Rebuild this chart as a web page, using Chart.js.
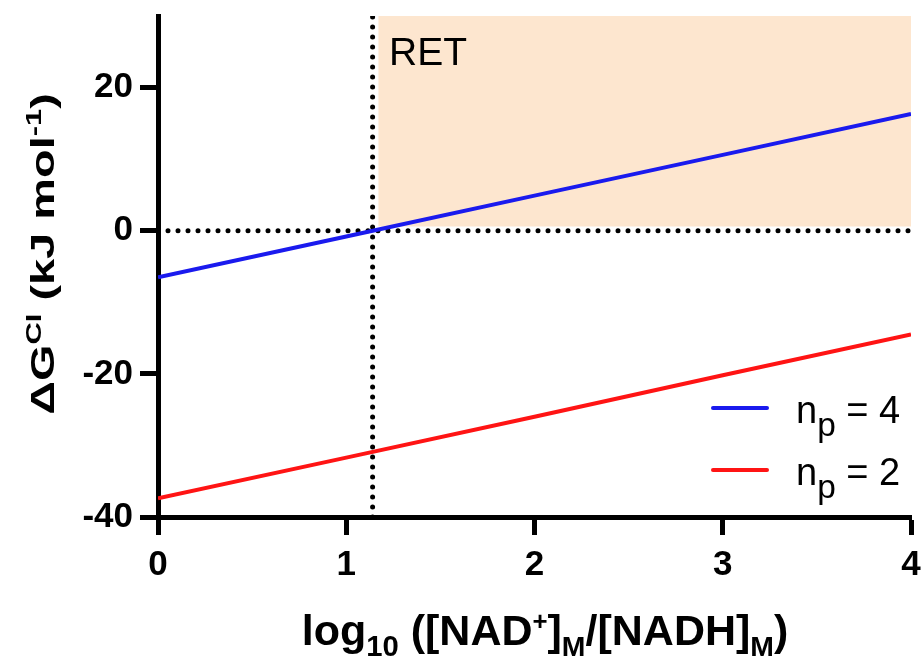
<!DOCTYPE html>
<html>
<head>
<meta charset="utf-8">
<script src="https://cdn.jsdelivr.net/npm/chart.js@4.4.1/dist/chart.umd.min.js"></script>
<style>
  html, body { margin: 0; padding: 0; background: #fff; }
  #wrap { width: 921px; height: 658px; position: relative; }
</style>
</head>
<body>
<div id="wrap"><canvas id="miGrafico" width="921" height="658"></canvas></div>
<script>
// valores
const xVals = [0, 1, 2, 3, 4];
const np4 = [-6.5, -0.8, 4.9, 10.6, 16.3];
const np2 = [-37.4, -31.7, -26.0, -20.2, -14.5];
const xTicks = [0, 1, 2, 3, 4];
const yTicks = [-40, -20, 0, 20];
const retX = [1.14, 1.14];
const retY = [-40, 30];
const zeroX = [0, 4];
const zeroY = [0, 0];
const zonaX = [1.17, 4];
const zonaY = [30, 30];
const zonaBase = 0.6;

const pts = (xs, ys) => xs.map((x, i) => ({ x: x, y: ys[i] }));

const np4Color = '#1a1aee';
const np2Color = '#ff1414';
const fuente = '"Liberation Sans", Arial, sans-serif';

// dibuja texto con sub/superindices
function richText(ctx, segs, size, weight, x, y, align, stretch) {
    let total = 0;
    const w = segs.map(s => {
        const fs = s.sub || s.sup ? size * (s.k || 0.62) : size;
        ctx.font = weight + ' ' + fs + 'px ' + fuente;
        const m = ctx.measureText(s.t).width;
        total += m;
        return m;
    });
    stretch = stretch || 1;
    ctx.save();
    ctx.translate(x, y);
    ctx.scale(stretch, 1);
    let cx = align === 'center' ? -total / 2 : 0;
    ctx.textBaseline = 'alphabetic';
    ctx.textAlign = 'left';
    ctx.fillStyle = '#000';
    segs.forEach((s, i) => {
        const fs = s.sub || s.sup ? size * (s.k || 0.62) : size;
        ctx.font = weight + ' ' + fs + 'px ' + fuente;
        let dy = 0;
        if (s.sub) dy = s.dy !== undefined ? s.dy : size * 0.22;
        if (s.sup) dy = s.dy !== undefined ? s.dy : -size * 0.38;
        ctx.fillText(s.t, cx, dy);
        cx += w[i];
    });
    ctx.restore();
    return total;
}

const textos = {
    id: 'textos',
    afterDraw: (chart) => {
        const ctx = chart.ctx;

        // etiqueta RET
        ctx.save();
        ctx.font = '39px ' + fuente;
        ctx.fillStyle = '#000';
        ctx.textBaseline = 'alphabetic';
        ctx.fillText('RET', 389, 65);
        ctx.restore();

        // titulo eje x
        richText(ctx, [
            { t: 'log' }, { t: '10', sub: true, k: 0.68, dy: 11 }, { t: ' ([NAD' }, { t: '+', sup: true, k: 0.6, dy: -15 },
            { t: ']' }, { t: 'M', sub: true, k: 0.66, dy: 11 }, { t: '/[NADH]' }, { t: 'M', sub: true, k: 0.66, dy: 11 }, { t: ')' }
        ], 43, 'bold', 545, 645, 'center');

        // titulo eje y
        ctx.save();
        ctx.translate(54, 254);
        ctx.rotate(-Math.PI / 2);
        richText(ctx, [
            { t: '\u0394G' }, { t: 'CI', sup: true, k: 0.66, dy: -13 }, { t: ' (kJ mol' }, { t: '-1', sup: true, k: 0.66, dy: -13 }, { t: ')' }
        ], 34, 'bold', 0, 0, 'center', 1.38);
        ctx.restore();

        // leyenda
        const items = [
            { c: np4Color, t: '4', y: 408 },
            { c: np2Color, t: '2', y: 470 }
        ];
        items.forEach(it => {
            ctx.save();
            ctx.strokeStyle = it.c;
            ctx.lineWidth = 4;
            ctx.lineCap = 'round';
            ctx.beginPath();
            ctx.moveTo(713, it.y);
            ctx.lineTo(767, it.y);
            ctx.stroke();
            ctx.restore();
            richText(ctx, [
                { t: 'n' }, { t: 'p', sub: true, k: 0.88, dy: 13 }, { t: ' = ' + it.t }
            ], 38, 'normal', 796, it.y + 15, 'left');
        });
    }
};

const ejeComun = {
    type: 'linear',
    ticks: {
        color: '#000',
        padding: 6,
        font: { size: 35, weight: 'bold', family: fuente }
    },
    grid: {
        drawOnChartArea: false,
        drawTicks: true,
        tickLength: 18,
        tickWidth: 5,
        tickColor: '#000'
    },
    border: { display: true, color: '#000', width: 5 }
};

const ctx = document.getElementById('miGrafico').getContext('2d');
const myChart = new Chart(ctx, {
    type: 'scatter',
    data: {
        datasets: [
            {
                label: 'n_p = 4',
                data: pts(xVals, np4),
                showLine: true,
                borderColor: np4Color,
                borderWidth: 4,
                pointRadius: 0,
                order: 0
            },
            {
                label: 'n_p = 2',
                data: pts(xVals, np2),
                showLine: true,
                borderColor: np2Color,
                borderWidth: 4,
                pointRadius: 0,
                order: 1
            },
            {
                label: 'cero',
                data: pts(zeroX, zeroY),
                showLine: true,
                borderColor: '#000',
                borderWidth: 5,
                borderDash: [0, 10],
                borderCapStyle: 'round',
                pointRadius: 0,
                order: 2
            },
            {
                label: 'umbral',
                data: pts(retX, retY),
                showLine: true,
                borderColor: '#000',
                borderWidth: 5,
                borderDash: [0, 10],
                borderCapStyle: 'round',
                pointRadius: 0,
                order: 3
            },
            {
                label: 'RET',
                data: pts(zonaX, zonaY),
                showLine: true,
                borderWidth: 0,
                borderColor: 'rgba(0,0,0,0)',
                backgroundColor: '#fde6cf',
                fill: { value: zonaBase },
                pointRadius: 0,
                order: 4
            }
        ]
    },
    options: {
        responsive: false,
        animation: false,
        layout: { padding: { top: 16, right: 10, left: 0, bottom: 0 } },
        plugins: {
            legend: { display: false },
            tooltip: { enabled: false }
        },
        scales: {
            x: Object.assign({}, ejeComun, {
                min: 0,
                max: 4,
                afterFit: (scale) => { scale.height = 141; scale.paddingLeft = 0; scale.paddingRight = 0; },
                afterBuildTicks: (scale) => { scale.ticks = xTicks.map(v => ({ value: v })); },
                ticks: Object.assign({}, ejeComun.ticks, { padding: 9 })
            }),
            y: Object.assign({}, ejeComun, {
                min: -40,
                max: 30,
                afterFit: (scale) => { scale.width = 158; scale.paddingTop = 0; scale.paddingBottom = 0; },
                afterBuildTicks: (scale) => { scale.ticks = yTicks.map(v => ({ value: v })); },
                ticks: Object.assign({}, ejeComun.ticks, { padding: 7 })
            })
        }
    },
    plugins: [textos]
});
</script>
</body>
</html>
